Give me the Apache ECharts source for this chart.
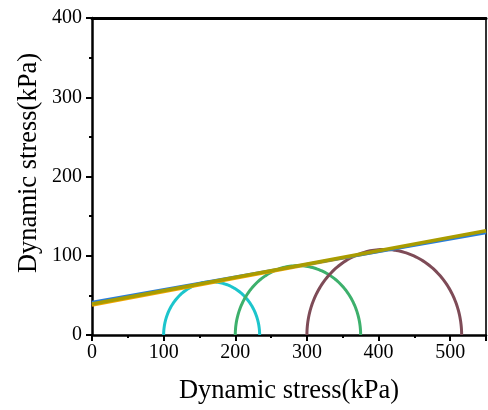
<!DOCTYPE html>
<html><head><meta charset="utf-8">
<script src="https://cdn.jsdelivr.net/npm/echarts@6/dist/echarts.min.js"></script>
<style>html,body{margin:0;padding:0;background:#fff}#c{width:488px;height:410px}</style>
</head><body><div id="c"></div>
<script>
// Mohr circles: minor and major principal stresses (kPa)
const sigma3 = [100, 200, 300];
const sigma1 = [234, 375, 516];
const circleColors = ['#1CC5CC', '#3DB06C', '#7E4B57'];
// Strength envelopes: [value at x=0, value at x=550]
const envX = [0, 550];
const envBlue = [41.5, 129];
const envOrange = [37.5, 131];
const envOlive = [39, 131.5];
const xTicks = [0, 100, 200, 300, 400, 500];
const yTicks = [0, 100, 200, 300, 400];
const axisTitle = 'Dynamic stress(kPa)';

const font = 'Liberation Serif';
const chart = echarts.init(document.getElementById('c'));

const circleSeries = sigma3.map((s3, i) => ({
  type: 'custom',
  coordinateSystem: 'cartesian2d',
  data: [[s3, sigma1[i]]],
  z: 3,
  renderItem: function (params, api) {
    const a = api.value(0), b = api.value(1);
    const c = (a + b) / 2, r = (b - a) / 2;
    const pts = [];
    for (let k = 0; k <= 120; k++) {
      const t = Math.PI * k / 120;
      pts.push(api.coord([c - r * Math.cos(t), r * Math.sin(t)]));
    }
    return {
      type: 'polyline',
      shape: { points: pts },
      style: { stroke: circleColors[i], lineWidth: 3, fill: null }
    };
  }
}));

function envSeries(vals, color, w, z) {
  return {
    type: 'line', showSymbol: false, symbol: 'none', z: z,
    data: envX.map((x, i) => [x, vals[i]]),
    lineStyle: { color: color, width: w }
  };
}

chart.setOption({
  animation: false,
  grid: { left: 92, top: 18, right: 2, bottom: 75, containLabel: false },
  graphic: [{
    type: 'text', x: 29, y: 163, rotation: Math.PI / 2,
    style: { text: axisTitle, font: '26.5px "Liberation Serif"', fill: '#000',
      textAlign: 'center', textVerticalAlign: 'middle' }
  }],
  xAxis: [{
    type: 'value', min: 0, max: 550, interval: 100,
    name: axisTitle, nameLocation: 'middle', nameGap: 43,
    nameTextStyle: { fontFamily: font, fontSize: 26.5, color: '#000' },
    axisLine: { onZero: false, lineStyle: { color: '#000', width: 2.5 } },
    axisTick: { show: true, inside: false, length: 6, lineStyle: { color: '#000', width: 2 } },
    minorTick: { show: true, splitNumber: 2, length: 3, lineStyle: { color: '#000', width: 2 } },
    axisLabel: { fontFamily: font, fontSize: 20, color: '#000', margin: 8,
      customValues: xTicks },
    splitLine: { show: false }
  }, {
    type: 'value', position: 'top', min: 0, max: 550,
    axisLine: { show: true, onZero: false, lineStyle: { color: '#000', width: 3 } },
    axisTick: { show: false }, axisLabel: { show: false }, splitLine: { show: false }
  }],
  yAxis: [{
    type: 'value', min: 0, max: 400, interval: 100,
    axisLine: { show: true, onZero: false, lineStyle: { color: '#000', width: 2.5 } },
    axisTick: { show: true, inside: false, length: 6, lineStyle: { color: '#000', width: 2 } },
    minorTick: { show: true, splitNumber: 2, length: 3, lineStyle: { color: '#000', width: 2 } },
    axisLabel: { fontFamily: font, fontSize: 20, color: '#000', margin: 10,
      customValues: yTicks },
    splitLine: { show: false }
  }, {
    type: 'value', position: 'right', min: 0, max: 400,
    axisLine: { show: true, onZero: false, lineStyle: { color: '#333', width: 2 } },
    axisTick: { show: false }, axisLabel: { show: false }, splitLine: { show: false }
  }],
  series: circleSeries.concat([
    envSeries(envOrange, '#F2A500', 3, 4),
    envSeries(envBlue, '#2A7DD8', 3, 5),
    envSeries(envOlive, '#A99C00', 3.5, 6)
  ])
});
</script></body></html>
